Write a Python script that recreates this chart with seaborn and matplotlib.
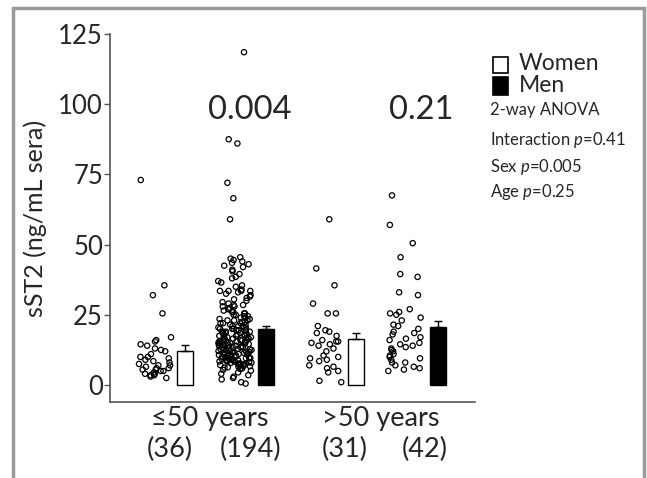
import numpy as np
import pandas as pd
import matplotlib
matplotlib.use('Agg')
import matplotlib.pyplot as plt
import seaborn as sns
from matplotlib.patches import Rectangle

# sST2 per subject
women_young = [73, 35.5, 32, 25.5, 17, 16, 15.5, 14.5, 14, 13, 12.5, 12, 11, 10, 10, 9.5,
               9, 8.5, 8, 7.5, 7, 7, 6.5, 6, 6, 5.5, 5.5, 5, 5, 4.5, 4, 4, 3.5, 3.5, 3, 2.5]
men_young = [118.5, 87.5, 86, 72, 66.5, 59,
             45.5, 45, 44.5, 44, 43.5, 43, 42.5, 42, 41, 40.5,
             39.5, 38.5, 38, 37, 36.5, 35.5, 35,
             34, 33.5, 33.5, 33.5, 33.5, 33, 32.5, 32, 31.5, 31, 30.5, 30,
             29.5, 29, 28.5, 28.5, 28, 28, 27.5, 27, 27, 26.5, 26, 26, 25.5, 25.5, 25, 25,
             24.5, 24.5, 24, 24, 23.5, 23.5, 23, 23, 23, 22.5, 22.5, 22, 22, 22, 21.5, 21.5,
             21, 21, 21, 20.5, 20.5, 20.5, 20, 20, 20,
             19.5, 19.5, 19.5, 19, 19, 19, 18.5, 18.5, 18.5, 18, 18, 18, 18, 17.5, 17.5, 17.5,
             17, 17, 17, 17, 16.5, 16.5, 16.5, 16, 16, 16, 16, 15.5, 15.5, 15.5, 15.5, 15, 15, 15, 15,
             14.9, 14.7, 14.4, 14.2, 14.0, 13.8, 13.6, 13.3, 13.1, 12.9, 12.7, 12.5, 12.3, 12.1, 11.9,
             11.8, 11.6, 11.4, 11.2, 11.0, 10.9, 10.7, 10.5, 10.3, 10.1,
             14.6, 13.9, 13.4, 12.8, 12.2, 11.7, 11.1, 10.6, 10.2, 14.1, 13.5, 12.6, 11.5, 10.8, 10.0,
             9.9, 9.7, 9.5, 9.3, 9.1, 8.9, 8.7, 8.5, 8.3, 8.1, 7.9, 7.7, 7.5, 7.3, 7.1, 6.9, 6.7,
             6.5, 6.3, 6.1, 5.9, 5.7, 5.4, 5.1, 9.6, 9.2, 8.8, 8.4, 8.0, 7.6, 7.2, 6.8, 6.2, 9.4, 8.6,
             4.5, 4, 3.5, 3, 2.5, 2, 1, 0.5]
women_old = [59, 41.5, 35.5, 29, 25.5, 25.5, 21, 19.5, 19, 18.5, 17.5, 16, 15.5, 15.5, 15, 14.5,
             14, 13, 12, 10.5, 10, 9.5, 9, 8.5, 7, 6.5, 6, 5, 4.5, 1.5, 1]
men_old = [67.5, 57, 50.5, 45.5, 39.5, 38.5, 33, 32, 27, 26, 25.5, 25, 24, 23, 21.5, 21, 20, 19,
           18.5, 18, 17, 16.5, 16, 15, 14.5, 14, 13.5, 13, 12.5, 12, 11, 10.5, 10, 9.5, 9, 8,
           8, 7, 6.5, 6, 5.5, 5]

bar_means = [12.1, 20.0, 16.4, 20.6]
bar_sem = [2.1, 1.1, 2.2, 2.3]
bar_colors = ['white', 'black', 'white', 'black']
group_n = ['(36)', '(194)', '(31)', '(42)']
age_labels = ['≤50 years', '>50 years']
pair_p = ['0.004', '0.21']
anova_lines = ['2-way ANOVA', 'Interaction $p$=0.41', 'Sex $p$=0.005', 'Age $p$=0.25']
legend_labels = ['Women', 'Men']
legend_colors = ['white', 'black']

# layout (x in axis units)
dot_x = [4.5, 12.5, 21.5, 29.5]
bar_x = [7.5, 15.6, 24.6, 32.8]
n_x = [6.0, 14.1, 23.5, 31.5]
age_x = [10.0, 27.1]
p_x = [14.0, 31.1]

groups = [women_young, men_young, women_old, men_old]
df = pd.DataFrame({
    'pos': np.concatenate([[x] * len(g) for x, g in zip(dot_x, groups)]),
    'sST2': np.concatenate(groups),
})

sns.set_style('white')
plt.rcParams['font.family'] = ['Lato', 'DejaVu Sans']
plt.rcParams['mathtext.fontset'] = 'custom'
plt.rcParams['mathtext.rm'] = 'Lato'
plt.rcParams['mathtext.it'] = 'Lato:italic'

W, H = 647, 478
fig = plt.figure(figsize=(6.47, 4.78), dpi=100)
ax = fig.add_axes([0.170, 0.159, 0.564, 0.770])

np.random.seed(7)
sns.stripplot(data=df, x='pos', y='sST2', native_scale=True, orient='x', jitter=0.21,
              color='white', edgecolor='black', linewidth=0.9, size=3.8, ax=ax, zorder=2)
for coll in ax.collections:
    coll.set_facecolor('none')

ax.bar(bar_x, bar_means, width=1.6, color=bar_colors, edgecolor='black', linewidth=1,
       yerr=[[0] * 4, bar_sem], capsize=3, error_kw=dict(elinewidth=1, ecolor='black', capthick=1),
       zorder=3)

ax.set_xlim(0, 36.5)
ax.set_ylim(-6.05, 125)
ax.set_yticks([0, 25, 50, 75, 100, 125])
ax.set_xticks([])
ax.set_xlabel('')
ax.set_ylabel('sST2 (ng/mL sera)', fontsize=18)
ax.yaxis.set_label_coords(-0.173, 0.5)
ax.tick_params(axis='y', labelsize=18.5, length=4, width=1, color='#555555', left=True, pad=1)
sns.despine(ax=ax)
for side in ['left', 'bottom']:
    ax.spines[side].set_color('#555555')
    ax.spines[side].set_linewidth(1.2)

trans = ax.get_xaxis_transform()
for x, lab in zip(age_x, age_labels):
    ax.text(x, -0.045, lab, transform=trans, ha='center', va='center', fontsize=19.5)
for x, lab in zip(n_x, group_n):
    ax.text(x, -0.13, lab, transform=trans, ha='center', va='center', fontsize=19.5)
for x, lab in zip(p_x, pair_p):
    ax.text(x, 98, lab, ha='center', va='center', fontsize=23.5)

# legend boxes and labels
for (top, bot), col, lab, ty in zip([(57, 73), (77, 95)], legend_colors, legend_labels, [64, 86]):
    fig.add_artist(Rectangle((493 / W, 1 - bot / H), 15 / W, (bot - top) / H,
                             transform=fig.transFigure, facecolor=col, edgecolor='black',
                             linewidth=1.2))
    fig.text(519 / W, 1 - ty / H, lab, ha='left', va='center', fontsize=16.5)

for yy, line in zip([110, 140, 167, 192], anova_lines):
    fig.text(490 / W, 1 - yy / H, line, ha='left', va='center', fontsize=12)

fig.add_artist(Rectangle((13 / W, -0.05), (644 - 13) / W, 1.05 - 8 / H,
                         transform=fig.transFigure, fill=False, edgecolor='#999999',
                         linewidth=2.5, clip_on=False))

fig.savefig('out.png', dpi=100)
